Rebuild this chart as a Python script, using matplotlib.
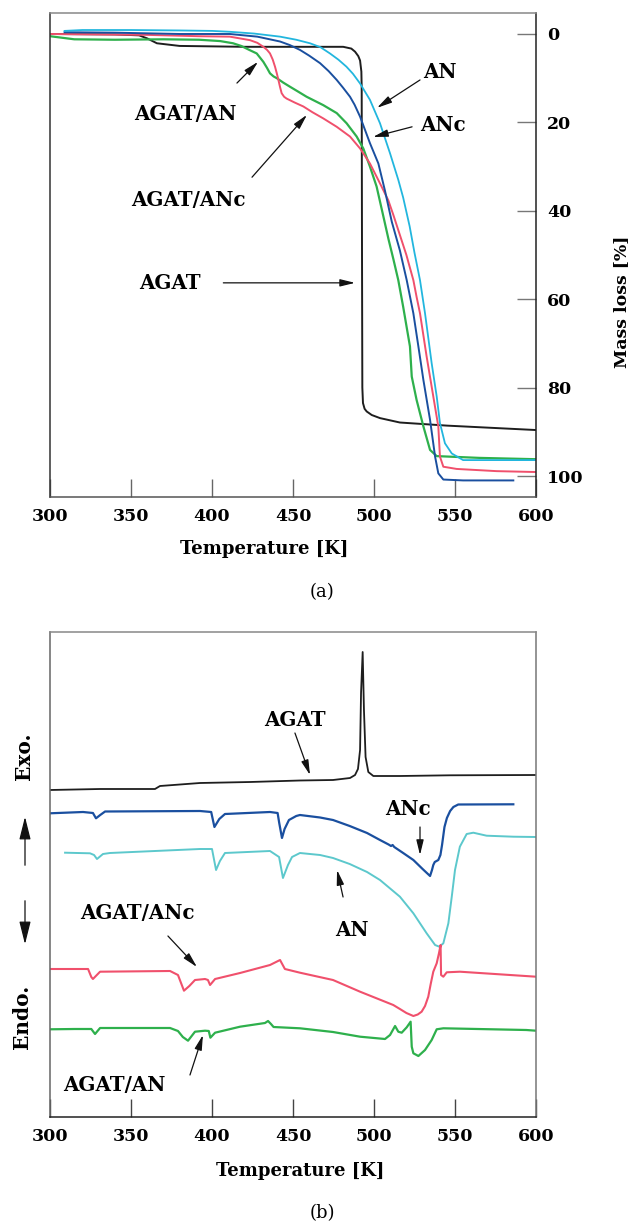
import matplotlib
matplotlib.use("Agg")
import matplotlib.pyplot as plt
from matplotlib.patches import FancyArrowPatch

plt.rcParams['font.family'] = ['DejaVu Serif']
plt.rcParams['font.weight'] = 'bold'

# ---------------- (a) TG data: temperature [K] vs mass loss [%] ----------------
agat_T = [300, 340, 355, 360, 366, 380, 420, 460, 481, 486, 488.3, 490.3, 491.4, 492.2, 492.4, 492.6, 492.8, 493.2, 494.2, 495.5, 498.6, 503.7, 516, 545, 600]
agat_m = [0, 0.1, 0.3, 1.0, 2.1, 2.7, 2.9, 2.9, 2.9, 3.3, 4.0, 5.0, 6.0, 8.5, 12, 50, 80, 83.5, 84.8, 85.4, 86.2, 86.9, 87.9, 88.6, 89.6]

an_T = [309, 320, 350, 380, 400, 411, 426, 442, 452, 460.5, 467, 472.8, 478, 483, 487, 491.4, 497.5, 503.7, 509.9, 515, 518, 522, 525, 528.4, 531.5, 535.6, 538.7, 540.7, 543.8, 548, 555, 569.5, 600]
an_m = [-0.7, -0.9, -0.9, -0.8, -0.7, -0.5, -0.1, 0.6, 1.3, 2.1, 3.0, 4.4, 5.8, 7.4, 9.0, 11.2, 14.9, 20.2, 27, 33, 37, 43.5, 49.5, 55.7, 63.2, 74.5, 82, 88, 92.6, 94.9, 96.4, 96.4, 96.4]

anc_T = [309, 340, 380, 411, 428, 442, 448, 454.3, 460, 466.7, 472, 477, 481, 485.2, 488, 491.4, 497.5, 502.7, 506.8, 511, 516, 520.2, 524.3, 527.4, 530.5, 534.6, 537.7, 539.7, 542.8, 555, 586]
anc_m = [-0.4, -0.3, 0.0, 0.0, 0.6, 1.7, 2.5, 3.6, 4.9, 6.6, 8.4, 10.4, 12.2, 14.2, 16.0, 18.7, 24.7, 29.3, 35.5, 42.5, 49, 55.7, 63.2, 70.7, 78.3, 87.3, 95.6, 99.4, 100.8, 101, 101]

agatanc_T = [300, 360, 392, 411, 423.5, 428, 431.7, 434, 435.8, 437.5, 438.9, 440, 441, 442, 443, 444.5, 446, 451, 456.4, 462, 468.7, 477, 485.2, 491.4, 497.5, 503.7, 508.8, 512, 516, 520, 524.3, 526.3, 528.4, 532.5, 536.6, 539.7, 540.7, 542.8, 551, 575.7, 600]
agatanc_m = [0, 0.2, 0.5, 0.6, 1.4, 2.0, 2.9, 3.6, 4.4, 5.8, 7.4, 8.9, 10.4, 12.0, 13.4, 14.2, 14.6, 15.5, 16.4, 17.7, 19.1, 21, 23.2, 25.9, 29.3, 33.8, 37.6, 41, 45.5, 50, 55.7, 59.5, 63.2, 73, 82, 88.8, 95.6, 97.9, 98.4, 98.9, 99.1]

agatan_T = [300, 315, 340, 370, 392, 405, 413, 418, 423, 427.6, 431.7, 434, 435.8, 438, 440, 444, 448, 453, 458.4, 468.7, 477, 483.1, 489.3, 493.4, 497.5, 501.6, 505, 509, 512, 515, 518, 522.2, 523.3, 526.3, 530.5, 534.6, 538.7, 565, 600]
agatan_m = [0.5, 1.2, 1.3, 1.2, 1.3, 1.6, 2.1, 2.7, 3.6, 4.4, 6.3, 7.7, 8.9, 9.6, 10, 11, 11.9, 13.0, 14.2, 16.1, 17.9, 20.2, 23.2, 25.9, 30, 34.5, 40, 46.5, 51, 55.7, 61.7, 70.7, 77.5, 82.8, 88.8, 94.1, 95.5, 95.9, 96.2]

# ---------------- (b) DSC data: temperature [K] vs heat flow (a.u., exo up) ----------------
dsc_agat_T = [300, 330.9, 364.8, 367.9, 392.6, 423.5, 454.3, 474.7, 485.2, 488.3, 490.1, 491.4, 492, 493, 493.8, 494.8, 496.5, 499.6, 516, 546.9, 600]
dsc_agat_y = [327, 328, 328, 331, 334, 335, 336.5, 337, 339, 342, 348, 367, 424, 465, 407, 360, 345, 341, 341, 341.7, 342]

dsc_anc_T = [300, 320.4, 326.5, 328.4, 331, 334, 392.6, 399.5, 401.5, 404.5, 408, 435.8, 440.5, 441.5, 443.2, 444.8, 447.5, 452, 454.3, 466.7, 474.7, 485, 495.7, 503.7, 509, 510.5, 511.5, 512.5, 518, 524.3, 530, 534.6, 535.8, 536.6, 537.5, 539.7, 541, 542, 543.5, 545, 547, 549, 552, 586]
dsc_anc_y = [303.7, 305, 304, 298.7, 302, 305.5, 306, 305, 290, 298, 303, 305, 304, 294, 279, 288, 297, 301, 302, 299.5, 297, 291, 284, 277, 272.5, 271, 272, 270, 264, 257, 248, 241, 247, 252, 255, 257, 262, 272, 290, 299, 306, 310, 312.5, 312.7]

dsc_an_T = [309.3, 324.7, 327.2, 329, 332.7, 337, 392.6, 400, 402.5, 404.9, 408, 435.8, 441.4, 443.8, 446.9, 449.4, 454.3, 466.7, 474.7, 485, 495.7, 503.7, 516, 524.3, 532.5, 537.7, 540.3, 542.8, 545.9, 548, 550, 553, 557.2, 561.3, 569.5, 586, 600]
dsc_an_y = [264.3, 263.7, 262, 258, 263, 264, 268, 268, 247, 256, 264, 266, 260, 239, 252, 260, 264, 262, 259, 253, 245, 237, 220.3, 203.7, 183.7, 172, 170.3, 173.7, 193.7, 220.3, 247, 270.3, 283, 284.3, 281.3, 280.3, 280]

dsc_agatanc_T = [300, 323.5, 325.5, 326.5, 330.9, 374.1, 379, 382.7, 386, 389.5, 395.7, 397.5, 398.8, 401.9, 417.3, 435.8, 442, 445, 454.3, 474.7, 491.4, 511.9, 516, 520, 524.3, 527, 529.4, 531.5, 533.5, 535, 536.6, 538.7, 540.1, 541.1, 541.4, 542.8, 544.9, 553, 584, 600]
dsc_agatanc_y = [148, 148, 140, 138, 145.3, 146, 142, 126.3, 131, 137, 138, 137, 132, 138, 144, 152, 157, 148, 144.3, 137, 125.3, 112, 108, 104, 101, 102.5, 105.3, 111, 120.3, 133, 145.3, 153.7, 163.7, 172, 142, 140.3, 144.7, 145.3, 142, 140.3]

dsc_agatan_T = [300, 315.4, 325.5, 327.8, 330.9, 374.1, 379, 382, 385.2, 389.5, 395.7, 398, 399, 401.9, 417.3, 432.7, 434.6, 436.4, 438, 454.3, 474.7, 491.4, 506.8, 509.9, 513, 515, 517.1, 520.2, 522.6, 523.3, 524.3, 527.4, 531.5, 535.6, 538.7, 542.8, 594, 600]
dsc_agatan_y = [87.7, 88, 88, 83, 89, 89, 86, 80, 76.3, 85.3, 86.3, 86, 79.3, 84.3, 90.3, 94, 96, 93, 90, 88.7, 85, 80.3, 78, 82, 91, 85.3, 84.3, 89.7, 95.3, 70.3, 63.7, 61, 67, 77, 87.7, 88.7, 87, 86.3]

x_ticks = [300, 350, 400, 450, 500, 550, 600]
y_ticks_tg = [0, 20, 40, 60, 80, 100]

c_black = '#1e1e1e'
c_blue = '#1a4f9f'
c_cyan_a = '#22b6de'
c_cyan_b = '#5cc8cc'
c_red = '#f0506c'
c_green = '#2eb04c'

W, H = 636, 1223
fig = plt.figure(figsize=(W / 100, H / 100), dpi=100)

def ax_rect(l, t, r, b):
    return [l / W, 1 - b / H, (r - l) / W, (b - t) / H]

FS_TICK = 12.5
FS_ANN = 14.3
FS_LAB = 13
arrow_kw = dict(arrowstyle='-|>,head_length=0.9,head_width=0.22', color='#111', lw=0.9, shrinkA=0, shrinkB=0)

# ---------------- panel (a) ----------------
ax1 = fig.add_axes(ax_rect(50, 13, 536, 497))
ax1.plot(agat_T, agat_m, color=c_black, lw=1.4)
ax1.plot(agatan_T, agatan_m, color=c_green, lw=1.6)
ax1.plot(agatanc_T, agatanc_m, color=c_red, lw=1.4)
ax1.plot(anc_T, anc_m, color=c_blue, lw=1.4)
ax1.plot(an_T, an_m, color=c_cyan_a, lw=1.3)
ax1.set_xlim(300, 600)
ax1.set_ylim(104.75, -4.75)
ax1.yaxis.tick_right()
ax1.set_xticks(x_ticks)
ax1.set_yticks(y_ticks_tg)
ax1.tick_params(axis='x', direction='in', length=13, width=1, color='#666', labelsize=FS_TICK, pad=8)
ax1.tick_params(axis='y', direction='in', length=14, width=1, color='#777', labelsize=FS_TICK, pad=8,
                left=False, right=True, labelleft=False, labelright=True)
ax1.set_xlabel('Temperature [K]', fontsize=FS_LAB, fontweight='bold')
ax1.xaxis.set_label_coords((264 - 50) / 486, -0.088)
ax1.yaxis.set_label_position('right')
ax1.set_ylabel('Mass loss [%]', fontsize=12.5, fontweight='bold', rotation=90, va='center', ha='center')
ax1.yaxis.set_label_coords((622 - 50) / 486, 1 - (302 - 13) / 484)
for s, c in [('top', '#888'), ('bottom', '#555'), ('left', '#333'), ('right', '#222')]:
    ax1.spines[s].set_color(c)
    ax1.spines[s].set_linewidth(1.1)

ax1.text(383.5, 18.2, 'AGAT/AN', fontsize=FS_ANN, ha='center', va='center')
ax1.annotate('', xy=(428.4, 6.3), xytext=(415.4, 11.1), arrowprops=arrow_kw)
ax1.text(385.4, 37.6, 'AGAT/ANc', fontsize=FS_ANN, ha='center', va='center')
ax1.annotate('', xy=(458.6, 18.3), xytext=(424.7, 32.4), arrowprops=arrow_kw)
ax1.text(374, 56.3, 'AGAT', fontsize=FS_ANN, ha='center', va='center')
ax1.annotate('', xy=(488.3, 56.3), xytext=(407, 56.3), arrowprops=arrow_kw)
ax1.text(540.7, 8.6, 'AN', fontsize=FS_ANN, ha='center', va='center')
ax1.annotate('', xy=(501.9, 16.7), xytext=(528.4, 10.4), arrowprops=arrow_kw)
ax1.text(542.6, 20.6, 'ANc', fontsize=FS_ANN, ha='center', va='center')
ax1.annotate('', xy=(499.4, 23.3), xytext=(523.5, 21.0), arrowprops=arrow_kw)

fig.text(322 / W, 1 - 592 / H, '(a)', fontsize=13, fontweight='normal', ha='center', va='center')

# ---------------- panel (b) ----------------
ax2 = fig.add_axes(ax_rect(50, 632, 536, 1117))
ax2.plot(dsc_agat_T, dsc_agat_y, color=c_black, lw=1.3)
ax2.plot(dsc_anc_T, dsc_anc_y, color=c_blue, lw=1.6)
ax2.plot(dsc_an_T, dsc_an_y, color=c_cyan_b, lw=1.4)
ax2.plot(dsc_agatanc_T, dsc_agatanc_y, color=c_red, lw=1.5)
ax2.plot(dsc_agatan_T, dsc_agatan_y, color=c_green, lw=1.6)
ax2.set_xlim(300, 600)
ax2.set_ylim(0, 485)
ax2.set_xticks(x_ticks)
ax2.set_yticks([])
ax2.tick_params(axis='x', direction='in', length=13, width=1, color='#444', labelsize=FS_TICK, pad=8)
ax2.set_xlabel('Temperature [K]', fontsize=FS_LAB, fontweight='bold')
ax2.xaxis.set_label_coords((300 - 50) / 486, -0.092)
for s, c in [('top', '#888'), ('bottom', '#222'), ('left', '#666'), ('right', '#777')]:
    ax2.spines[s].set_color(c)
    ax2.spines[s].set_linewidth(1.1)

ax2.text(451, 397, 'AGAT', fontsize=FS_ANN, ha='center', va='center')
ax2.annotate('', xy=(460.5, 342), xytext=(451.2, 384), arrowprops=arrow_kw)
ax2.text(521, 308, 'ANc', fontsize=FS_ANN, ha='center', va='center')
ax2.annotate('', xy=(528.4, 262), xytext=(528.4, 290), arrowprops=arrow_kw)
ax2.text(486.4, 187, 'AN', fontsize=FS_ANN, ha='center', va='center')
ax2.annotate('', xy=(477.2, 247), xytext=(480.9, 220), arrowprops=arrow_kw)
ax2.text(353.7, 204, 'AGAT/ANc', fontsize=FS_ANN, ha='center', va='center')
ax2.annotate('', xy=(390.7, 150), xytext=(372.8, 181), arrowprops=arrow_kw)
ax2.text(340, 32, 'AGAT/AN', fontsize=FS_ANN, ha='center', va='center')
ax2.annotate('', xy=(394.4, 82), xytext=(386.4, 42), arrowprops=arrow_kw)

fig.text(24 / W, 1 - 756 / H, 'Exo.', fontsize=14.5, rotation=90, ha='center', va='center')
fig.text(22 / W, 1 - 1017 / H, 'Endo.', fontsize=14.5, rotation=90, ha='center', va='center')
big_style = '-|>,head_length=1.4,head_width=0.35'
fig.add_artist(FancyArrowPatch((25 / W, 1 - 868 / H), (25 / W, 1 - 814 / H), transform=fig.transFigure,
                               arrowstyle=big_style, mutation_scale=10, color='#111', lw=0.9))
fig.add_artist(FancyArrowPatch((25 / W, 1 - 898 / H), (25 / W, 1 - 947 / H), transform=fig.transFigure,
                               arrowstyle=big_style, mutation_scale=10, color='#111', lw=0.9))

fig.text(322 / W, 1 - 1213 / H, '(b)', fontsize=13, fontweight='normal', ha='center', va='center')

fig.savefig('out.png', dpi=100)
